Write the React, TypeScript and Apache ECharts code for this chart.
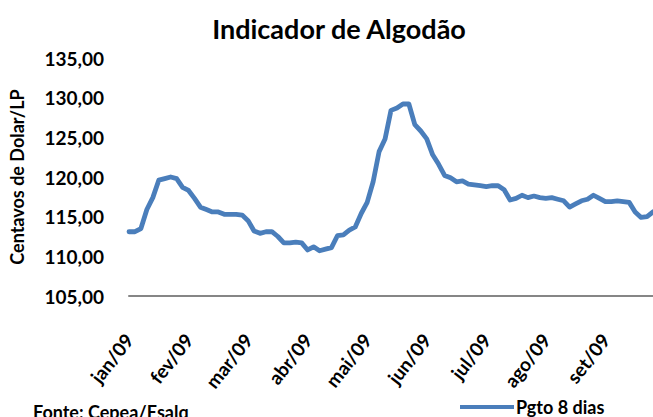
import React, { useEffect, useRef } from "react";
import * as echarts from "echarts";

const MONTHS = ["jan/09", "fev/09", "mar/09", "abr/09", "mai/09", "jun/09", "jul/09", "ago/09", "set/09"];
const POINTS_PER_MONTH = 10;

// Indicador de Algodão (Pgto 8 dias), centavos de dólar por libra-peso
const PGTO_8_DIAS = [
  113.1, 113.1, 113.5, 115.9, 117.4, 119.6, 119.8, 120.0, 119.8, 118.7,
  118.3, 117.3, 116.2, 115.9, 115.6, 115.6, 115.3, 115.3, 115.3, 115.2,
  114.5, 113.2, 112.9, 113.1, 113.1, 112.5, 111.7, 111.7, 111.8, 111.7,
  110.8, 111.2, 110.7, 110.9, 111.1, 112.6, 112.7, 113.3, 113.7, 115.4,
  116.8, 119.4, 123.2, 124.8, 128.4, 128.7, 129.2, 129.2, 126.6, 125.8,
  124.8, 122.8, 121.6, 120.2, 119.9, 119.4, 119.5, 119.1, 119.0, 118.9,
  118.8, 118.9, 118.9, 118.4, 117.1, 117.3, 117.7, 117.4, 117.6, 117.4,
  117.3, 117.4, 117.2, 117.0, 116.2, 116.6, 117.0, 117.2, 117.7, 117.3,
  116.9, 116.9, 117.0, 116.9, 116.8, 115.6, 114.9, 115.0, 115.6,
];

const Y_MIN = 105;
const Y_MAX = 135;
const Y_STEP = 5;

const TITLE = "Indicador de Algodão";
const Y_NAME = "Centavos de Dolar/LP";
const SERIES_NAME = "Pgto 8 dias";
const SOURCE = "Fonte: Cepea/Esalq";

const FONT = "Lato, 'Open Sans', sans-serif";
const BLUE = "#4A7EBB";

export default function App() {
  const ref = useRef<HTMLDivElement>(null);

  useEffect(() => {
    if (!ref.current) return;
    const chart = echarts.init(ref.current, null, { renderer: "svg" });
    const categories = PGTO_8_DIAS.map((_, i) => {
      const m = Math.floor(i / POINTS_PER_MONTH);
      const k = i % POINTS_PER_MONTH;
      return `${MONTHS[m] ?? "out/09"}#${k}`;
    });
    chart.setOption({
      animation: false,
      backgroundColor: "#ffffff",
      textStyle: { fontFamily: FONT },
      grid: { left: 125, right: 0, top: 58, bottom: 121, containLabel: false },
      xAxis: {
        type: "category",
        data: categories,
        boundaryGap: false,
        axisLine: { show: true, lineStyle: { color: "#868686", width: 2 } },
        axisTick: { show: false },
        splitLine: { show: false },
        axisLabel: {
          interval: POINTS_PER_MONTH - 1,
          rotate: 52,
          margin: 40,
          fontFamily: FONT,
          fontWeight: "bold",
          fontSize: 19,
          color: "#000000",
          formatter: (v: string) => v.split("#")[0],
        },
      },
      yAxis: {
        type: "value",
        min: Y_MIN,
        max: Y_MAX,
        interval: Y_STEP,
        name: Y_NAME,
        nameLocation: "middle",
        nameRotate: 90,
        nameGap: 103,
        nameTextStyle: { fontFamily: FONT, fontWeight: "bold", fontSize: 18, color: "#000000" },
        axisLine: { show: false },
        axisTick: { show: false },
        splitLine: { show: false },
        axisLabel: {
          margin: 25,
          fontFamily: FONT,
          fontWeight: "bold",
          fontSize: 19,
          color: "#000000",
          formatter: (v: number) => v.toFixed(2).replace(".", ","),
        },
      },
      legend: {
        left: 455,
        top: 393,
        itemWidth: 54,
        itemHeight: 4,
        itemGap: 4,
        data: [{ name: SERIES_NAME, icon: "rect", itemStyle: { color: BLUE } }],
        textStyle: { fontFamily: FONT, fontWeight: "bold", fontSize: 18, color: "#000000", padding: [0, 0, 0, -3] },
        itemStyle: { borderWidth: 0 },
      },
      graphic: [
        {
          type: "text",
          x: 339,
          y: 28,
          style: {
            text: TITLE,
            font: `bold 27px ${FONT}`,
            fill: "#000000",
            textAlign: "center",
            textVerticalAlign: "middle",
          },
        },
        {
          type: "text",
          x: 33,
          y: 403,
          style: {
            text: SOURCE,
            font: `bold 18px ${FONT}`,
            fill: "#000000",
            textAlign: "left",
            textVerticalAlign: "top",
          },
        },
      ],
      series: [
        {
          name: SERIES_NAME,
          type: "line",
          data: PGTO_8_DIAS,
          symbol: "none",
          smooth: false,
          lineStyle: { color: BLUE, width: 4.8, join: "round", cap: "round" },
          itemStyle: { color: BLUE },
        },
      ],
    });
    return () => chart.dispose();
  }, []);

  return (
    <div
      ref={ref}
      style={{ position: "fixed", left: 0, top: 0, width: 653, height: 417, background: "#fff" }}
    />
  );
}
